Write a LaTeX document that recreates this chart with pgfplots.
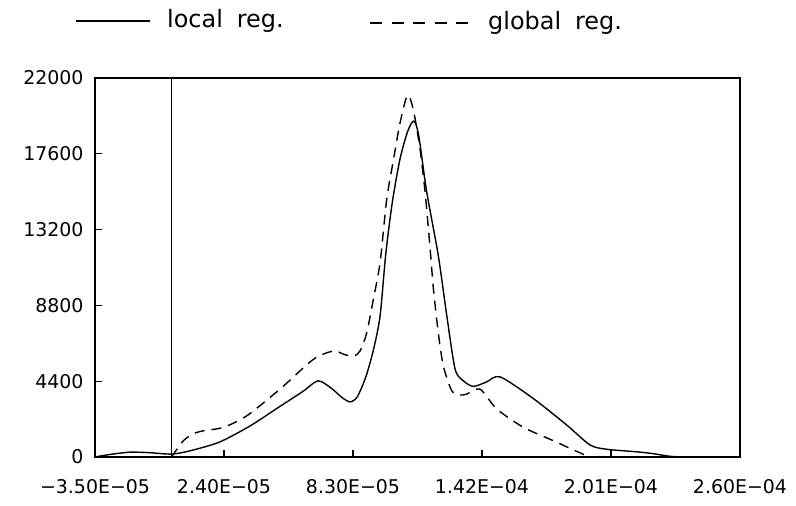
\documentclass[border=0pt]{standalone}
\usepackage{fontspec}
\setmainfont{DejaVu Sans}
\usepackage{pgfplots}
\pgfplotsset{compat=1.18}
\begin{document}
\begin{tikzpicture}
\useasboundingbox (0bp,0bp) rectangle (796bp,506bp);
\begin{axis}[
  at={(95bp,49bp)}, anchor=south west,
  scale only axis, width=645bp, height=379bp,
  xmin=-35, xmax=260, ymin=0, ymax=22000,
  scaled x ticks=false, scaled y ticks=false,
  axis line style={line width=1.3bp},
  xtick={-35,24,83,142,201,260},
  xticklabels={−3.50E−05,2.40E−05,8.30E−05,1.42E−04,2.01E−04,2.60E−04},
  ytick={0,4400,8800,13200,17600,22000},
  yticklabels={0,4400,8800,13200,17600,22000},
  xtick pos=bottom, ytick pos=left,
  tick align=inside, major tick length=7bp,
  tick style={line width=1.2bp, black},
  ticklabel style={font=\fontsize{19}{22}\selectfont},
  xticklabel style={yshift=-19bp},
  yticklabel style={xshift=-8bp},
  clip=false,
]
\addplot[black, line width=1.2bp, forget plot] coordinates {(0,0) (0,22000)};
\addplot[black, line width=1.4bp, smooth, tension=0.45] coordinates {
(-35,0) (-28,150) (-19,280) (-10,250) (0,170) (8.5,360) (22,870) (36,1810)
(50,2970) (60,3800) (67,4420) (73,4000) (78,3450) (81.7,3200) (85,3500)
(89,4700) (92.5,6300) (95.4,8200) (98,11800) (101,14800) (104.5,17300)
(108,18900) (110.8,19500) (113,18700) (116.7,15400) (122,11700) (125.9,8200)
(129.7,5100) (133.5,4420) (138,4100) (144,4350) (150.3,4650) (165.4,3400)
(180.8,1850) (191.4,700) (199,450) (212.8,300) (220,200) (228,40) (236,0) (255,0)
};
\addplot[black, line width=1.4bp, dash pattern=on 10bp off 7bp, smooth, tension=0.45] coordinates {
(0,0) (5.4,940) (10,1350) (14.5,1520) (23.7,1720) (34.4,2390) (49.6,3940)
(64.9,5670) (74,6150) (79,5950) (83.2,5850) (86.2,6150) (89.3,7220) (92.3,9150)
(95.4,11300) (98.4,14940) (101.5,17250) (104.5,19380) (107.9,21000) (110.6,20150)
(113.7,17830) (116,15330) (118.2,12200) (119.8,9730) (122,7220) (124.3,5290)
(128.2,3840) (132,3600) (135,3650) (141.1,3940) (148.8,2780) (161,1720)
(174.7,940) (187.6,200) (193,0) (225,0)
};
\end{axis}
\draw[black, line width=1.4bp] (76bp,485bp) -- (150bp,485bp);
\node[anchor=west, inner sep=0pt, font=\fontsize{24}{27}\selectfont] at (167bp,485bp) {local\hspace{14bp}reg.};
\draw[black, line width=1.4bp, dash pattern=on 12bp off 9.5bp] (370bp,483bp) -- (468bp,483bp);
\node[anchor=west, inner sep=0pt, font=\fontsize{24}{27}\selectfont] at (488bp,483bp) {global\hspace{14bp}reg.};
\end{tikzpicture}
\end{document}
